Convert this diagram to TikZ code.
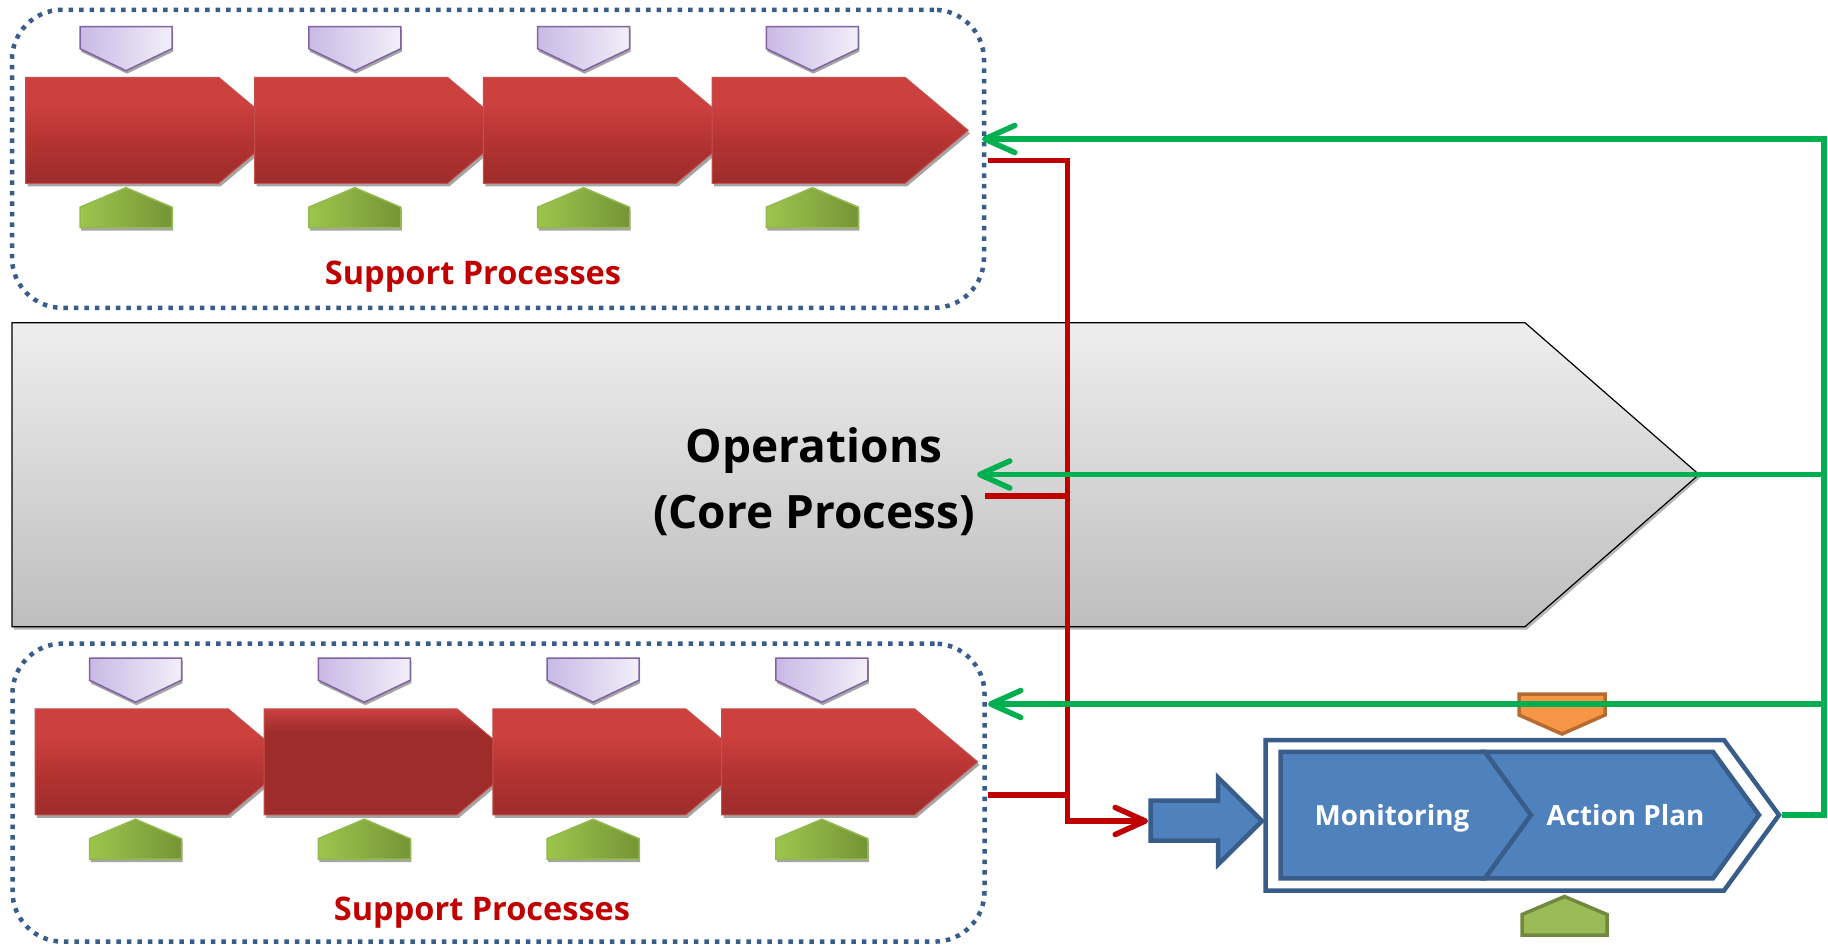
\documentclass[tikz,border=0pt]{standalone}
\usepackage{fontspec}
\setmainfont{Open Sans}
\usetikzlibrary{arrows.meta}

\definecolor{frameblue}{RGB}{56,93,138}
\definecolor{redtop}{RGB}{204,64,62}
\definecolor{redmid}{RGB}{180,52,50}
\definecolor{redbot}{RGB}{157,44,43}
\definecolor{redborder}{RGB}{196,80,77}
\definecolor{purpleL}{RGB}{201,185,229}
\definecolor{purpleR}{RGB}{242,239,249}
\definecolor{purpleB}{RGB}{128,100,162}
\definecolor{greenL}{RGB}{157,197,76}
\definecolor{greenM}{RGB}{140,176,66}
\definecolor{greenR}{RGB}{117,148,54}
\definecolor{greenB}{RGB}{146,186,80}
\definecolor{shadowgray}{RGB}{165,165,165}
\definecolor{linegreen}{RGB}{0,176,80}
\definecolor{linered}{RGB}{192,0,0}
\definecolor{boxfill}{RGB}{79,129,189}
\definecolor{boxline}{RGB}{56,93,138}
\definecolor{orangefill}{RGB}{247,150,70}
\definecolor{orangeline}{RGB}{182,108,48}
\definecolor{olivefill}{RGB}{155,187,89}
\definecolor{oliveline}{RGB}{113,137,62}
\definecolor{greytop}{RGB}{238,238,238}
\definecolor{greybot}{RGB}{190,190,190}

% vertical fills for the red process steps (25bp = bottom, 75bp = top)
\pgfdeclareverticalshading{redbar}{100bp}{color(0bp)=(redbot); color(25bp)=(redbot); color(45bp)=(redmid); color(62bp)=(redtop); color(100bp)=(redtop)}
\pgfdeclareverticalshading{redsel}{100bp}{color(0bp)=(redbot); color(25bp)=(redbot); color(64bp)=(redbot); color(75bp)=(redtop); color(100bp)=(redtop)}

% one red step: left x, top y, fill shading
\newcommand\redArrow[3]{%
  \fill[shadowgray] ({#1+2},{#2+3}) -- ++(193,0) -- ++(63,53) -- ++(-63,53) -- ++(-193,0) -- cycle;
  \shade[shading=#3, draw=redborder, line width=1pt] (#1,#2) -- ++(193,0) -- ++(63,53) -- ++(-63,53) -- ++(-193,0) -- cycle;}
% purple input marker: centre x, top y
\newcommand\purpleChev[2]{%
  \fill[shadowgray] ({#1-45},{#2+3}) -- ++(92,0) -- ++(0,22) -- ++(-46,22) -- ++(-46,-22) -- cycle;
  \shade[left color=purpleL, right color=purpleR, draw=purpleB, line width=1.5pt] ({#1-46},#2) -- ++(92,0) -- ++(0,22) -- ++(-46,22) -- ++(-46,-22) -- cycle;}
% green output marker: centre x, peak y
\newcommand\greenChev[2]{%
  \fill[shadowgray] ({#1+1},{#2+3}) -- ++(46,19.5) -- ++(0,20.5) -- ++(-92,0) -- ++(0,-20.5) -- cycle;
  \shade[left color=greenL, middle color=greenM, right color=greenR, draw=greenB, line width=1.5pt] (#1,#2) -- ++(46,19.5) -- ++(0,20.5) -- ++(-92,0) -- ++(0,-20.5) -- cycle;}

\begin{document}
\begin{tikzpicture}[x=1pt,y=-1pt,
  sbox/.style={draw=frameblue, line width=4.5pt, dash pattern=on 4.5pt off 6pt,
    rounded corners=50pt, minimum width=972pt, minimum height=298pt,
    inner sep=0pt, outer sep=0pt},
  glink/.style={draw=linegreen, line width=5.5pt},
  rlink/.style={draw=linered, line width=5.5pt},
  barb/.style={-{Straight Barb[length=30pt, width=27pt, round]}},
  splabel/.style={font=\fontsize{32.5}{38}\selectfont\bfseries, text=linered, anchor=base, inner sep=0pt},
  steplabel/.style={font=\fontsize{27.8}{32}\selectfont\bfseries, text=white, anchor=base, inner sep=0pt},
  blueshape/.style={fill=boxfill, draw=boxline, line width=4.5pt, line join=miter},
]
\useasboundingbox (0,0) rectangle (1828,945);
\fill[white] (0,0) rectangle (1828,945);

% dotted frames of the two support groups
\node[sbox] (supTop) at (498,158.8) {};
\node[sbox] (supBot) at (498.5,792.6) {};

% upper support chain
\foreach \k in {0,1,2,3}{
  \pgfmathsetmacro\L{25.7+228.8*\k}
  \redArrow{\L}{77.3}{redbar}
}
\foreach \k in {0,1,2,3}{
  \pgfmathsetmacro\C{126+228.8*\k}
  \purpleChev{\C}{26.7}
  \greenChev{\C}{187.7}
}
\node[splabel] (supTopLbl) at (473,284.3) {Support Processes};

% lower support chain (second step highlighted)
\foreach \k/\s in {0/redbar,1/redsel,2/redbar,3/redbar}{
  \pgfmathsetmacro\L{35.2+228.8*\k}
  \redArrow{\L}{708.8}{\s}
}
\foreach \k in {0,1,2,3}{
  \pgfmathsetmacro\C{135.5+228.8*\k}
  \purpleChev{\C}{658.2}
  \greenChev{\C}{819.2}
}
\node[splabel] (supBotLbl) at (482,920) {Support Processes};

% core process arrow
\fill[shadowgray!80] (13.5,325.5) -- (1527,325.5) -- (1701,477) -- (1527,629.5) -- (13.5,629.5) -- cycle;
\shade[top color=greytop, bottom color=greybot, draw=black, line width=1.2pt]
  (12,322.7) -- (1525,322.7) -- (1699,474.5) -- (1525,626.7) -- (12,626.7) -- cycle;
\coordinate (opsTip) at (1699,474.5);
\node[font=\fontsize{46}{66}\selectfont\bfseries, align=center, anchor=base, inner sep=0pt]
  (opsLbl) at (814,528.3) {Operations\\(Core Process)};

% monitoring / action plan block
\draw[fill=orangefill, draw=orangeline, line width=3.5pt]
  (1519,694) -- (1605,694) -- (1605,715) -- (1562,734) -- (1519,715) -- cycle;
\draw[fill=olivefill, draw=oliveline, line width=3.5pt]
  (1564.5,896.5) -- (1607,914.5) -- (1607,935) -- (1522,935) -- (1522,914.5) -- cycle;
\draw[blueshape] (1150.5,800.5) -- (1218,800.5) -- (1218,777.5) -- (1262,821) -- (1218,864.5) -- (1218,840.5) -- (1150.5,840.5) -- cycle;
\draw[fill=white, draw=boxline, line width=4.5pt]
  (1265.5,740) -- (1724,740) -- (1779,815) -- (1724,890.5) -- (1265.5,890.5) -- cycle;
\draw[blueshape] (1280.5,751.8) -- (1485,751.8) -- (1531,815) -- (1485,878.3) -- (1280.5,878.3) -- cycle;
\draw[blueshape] (1485,751.8) -- (1713,751.8) -- (1759,815) -- (1713,878.3) -- (1485,878.3) -- (1531,815) -- cycle;
\node[steplabel] (monLbl) at (1392,825) {Monitoring};
\node[steplabel] (actLbl) at (1625.5,825) {Action Plan};

% connector end points
\coordinate (apTip) at (1781.5,815);
\coordinate (inArrow) at (1148,821);
\coordinate (railTop) at (1824,139);
\coordinate (topIn) at (982,139);
\coordinate (opsIn) at (977,474.5);
\coordinate (botIn) at (988,704);
\coordinate (redTop) at (988,160.7);
\coordinate (redOps) at (985,496);
\coordinate (redBot) at (988,795);
\coordinate (busEnd) at (1067.5,821);

% reporting lines into the block
\draw[rlink, barb] (redTop) -| (busEnd) -- (inArrow);
\draw[rlink] (redOps) -- (redOps -| busEnd);
\draw[rlink] (redBot) -- (redBot -| busEnd);

% feedback from the action plan
\draw[glink, barb] (apTip) -| (railTop) -- (topIn);
\draw[glink, barb] (railTop |- opsTip) -- (opsIn);
\draw[glink, barb] (railTop |- botIn) -- (botIn);
\end{tikzpicture}
\end{document}
